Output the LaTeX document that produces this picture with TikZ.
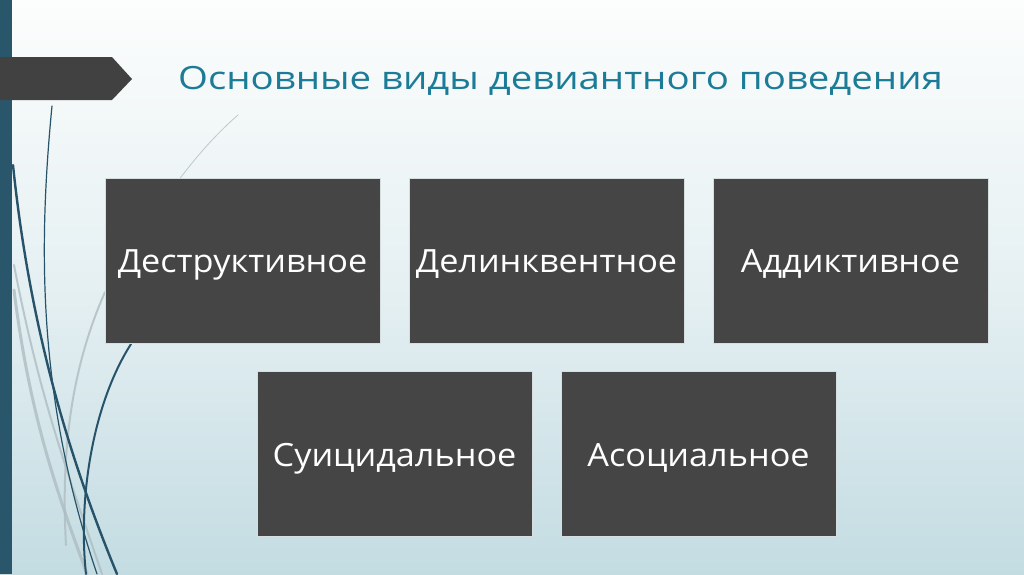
\documentclass[tikz,border=0pt]{standalone}
\usepackage{fontspec}
\usepackage{graphicx}
\setmainfont{Open Sans}
\definecolor{bgtop}{HTML}{FCFDFD}
\definecolor{bgbot}{HTML}{C3DCE2}
\definecolor{barcol}{HTML}{2A566C}
\definecolor{tabcol}{HTML}{414141}
\definecolor{titlecol}{HTML}{1C7B96}
\definecolor{boxcol}{HTML}{454545}
\definecolor{boxedge}{HTML}{D6DEE0}
\definecolor{curvedark}{HTML}{27536A}
\definecolor{curvelight}{HTML}{AEBDC2}
\newcommand{\wbox}[1]{\raisebox{-12pt}[0pt][0pt]{\scalebox{1.07}[1]{#1}}}
\tikzset{
  itembox/.style={draw=boxedge, line width=0.8pt, fill=boxcol, minimum width=275pt, minimum height=165pt, inner sep=0pt, text=white, font=\fontsize{32}{36}\selectfont},
  darkcurve/.style={draw=curvedark, line cap=round},
  lightcurve/.style={draw=curvelight, line cap=round, opacity=0.8},
}
\begin{document}
\begin{tikzpicture}[x=1pt,y=-1pt]
\useasboundingbox (0,0) rectangle (1024,574);
\shade[top color=bgtop, bottom color=bgbot, middle color=bgtop!60!bgbot] (0,0) rectangle (1024,574);
% light curves
\draw[lightcurve, line width=3pt] (14,290) .. controls (30,420) and (60,500) .. (87,574);
\draw[lightcurve, line width=2pt] (14,265) .. controls (40,400) and (70,480) .. (102,574);
\draw[lightcurve, line width=2pt] (105,292) .. controls (75,360) and (60,440) .. (66,545);
\draw[lightcurve, line width=0.8pt] (238,115) .. controls (215,135) and (195,158) .. (175,185);
% dark curves
\draw[darkcurve, line width=1.2pt] (52,106) .. controls (38,250) and (38,400) .. (97,574);
\draw[darkcurve, line width=2.4pt] (13,165) .. controls (30,330) and (70,460) .. (117,574);
\draw[darkcurve, line width=2pt] (131,344) .. controls (92,405) and (78,500) .. (86,574);
% left bar and tab
\fill[barcol] (0,0) rectangle (12,574);
\fill[tabcol] (0,57) -- (112,57) -- (132,79) -- (112,100) -- (0,100) -- cycle;
% title
\node[anchor=west, text=titlecol, font=\fontsize{32}{36}\selectfont, inner sep=0pt] (title) at (178,81) {\scalebox{1.2}[1]{Основные виды девиантного поведения}};
% boxes
\node[itembox] (b1) at (242.5,260.5) {\wbox{Деструктивное}};
\node[itembox] (b2) at (546.5,260.5) {\wbox{Делинквентное}};
\node[itembox] (b3) at (850.5,260.5) {\wbox{Аддиктивное}};
\node[itembox] (b4) at (394.5,454) {\wbox{Суицидальное}};
\node[itembox] (b5) at (698.5,454) {\wbox{Асоциальное}};
\end{tikzpicture}
\end{document}
